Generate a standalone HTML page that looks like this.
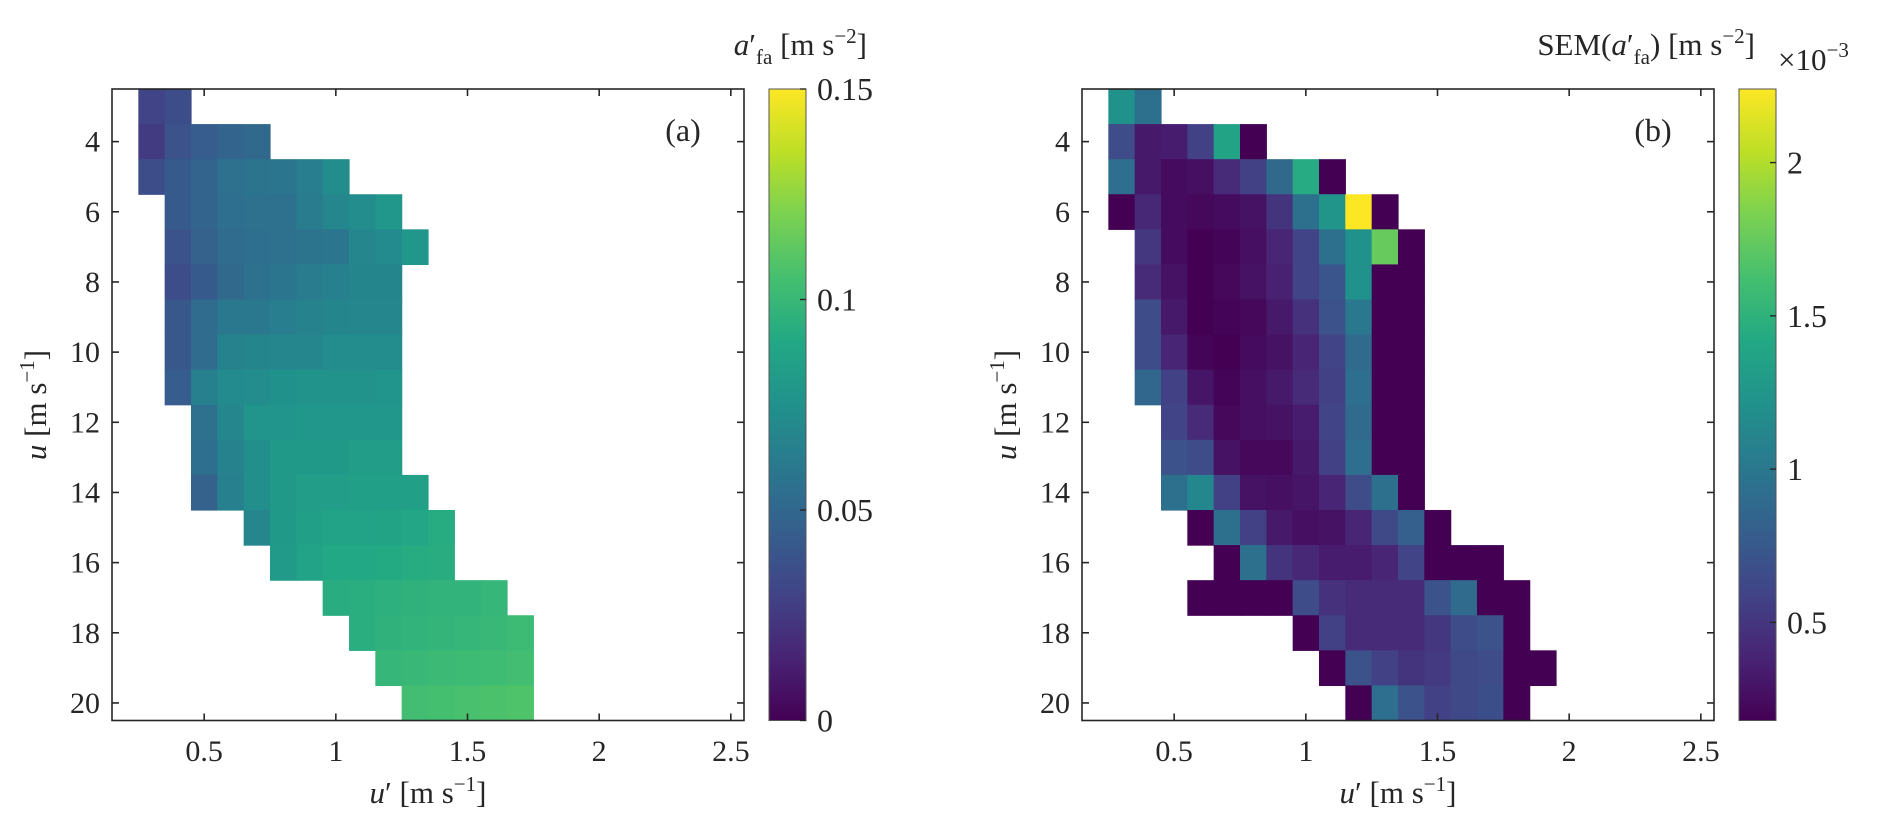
<!DOCTYPE html>
<html><head><meta charset="utf-8"><style>
html,body{margin:0;padding:0;background:#fff;}
svg{display:block;font-family:"Liberation Serif",serif;}
</style></head><body>
<svg id="fig" width="1892" height="832" viewBox="0 0 1892 832" xmlns="http://www.w3.org/2000/svg">
<g id="pa"></g>
<g id="pb"></g>
</svg>
<script>
// u rows (m/s) 3..20, u' columns centres 0.3..1.9
const uRows = [3,4,5,6,7,8,9,10,11,12,13,14,15,16,17,18,19,20];
const xTicks = [0.5,1,1.5,2,2.5];
const xTickLabels = ["0.5","1","1.5","2","2.5"];
const yTicks = [4,6,8,10,12,14,16,18,20];
const yTickLabels = ["4","6","8","10","12","14","16","18","20"];
// panel a: first column index per row, values [m s^-2]
const aStart = [0,0,0,1,1,1,1,1,1,2,2,2,4,5,7,8,9,10];
const aVals = [
 [.030,.035],
 [.026,.038,.044,.048,.051],
 [.035,.042,.048,.056,.057,.059,.063,.072],
 [.042,.048,.054,.056,.056,.062,.069,.072,.078],
 [.039,.047,.053,.054,.056,.057,.059,.069,.071,.078],
 [.035,.042,.051,.056,.059,.062,.065,.068,.068],
 [.041,.053,.060,.060,.063,.066,.068,.069,.069],
 [.041,.053,.066,.068,.069,.069,.072,.072,.072],
 [.044,.065,.071,.072,.075,.076,.076,.076,.077],
 [.056,.069,.077,.077,.078,.078,.078,.078],
 [.054,.066,.074,.080,.080,.080,.083,.083],
 [.047,.065,.074,.080,.083,.083,.084,.084,.084],
 [.069,.080,.084,.086,.086,.087,.089,.092],
 [.081,.086,.090,.090,.091,.092,.093],
 [.093,.094,.095,.096,.097,.097,.099],
 [.094,.096,.097,.098,.099,.100,.102],
 [.099,.100,.101,.102,.103,.104],
 [.104,.105,.106,.107,.108]
];
const aCbTicks = [0,0.05,0.1,0.15];
const aCbLabels = ["0","0.05","0.1","0.15"];
// panel b: SEM values x1e-3
const bStart = [0,0,0,0,1,1,1,1,1,2,2,2,3,4,3,7,8,9];
const bVals = [
 [1.21,0.94],
 [0.65,0.32,0.34,0.57,1.37,0.18],
 [0.92,0.32,0.24,0.26,0.43,0.57,0.88,1.44,0.18],
 [0.18,0.41,0.24,0.22,0.24,0.28,0.49,0.94,1.25,2.24,0.18],
 [0.51,0.24,0.18,0.20,0.26,0.39,0.59,0.94,1.21,1.75,0.18],
 [0.43,0.28,0.18,0.22,0.28,0.37,0.59,0.72,1.21,0.18,0.18],
 [0.65,0.32,0.18,0.20,0.22,0.32,0.47,0.70,1.0,0.18,0.18],
 [0.65,0.39,0.20,0.18,0.24,0.28,0.39,0.59,0.90,0.18,0.18],
 [0.86,0.57,0.30,0.20,0.26,0.32,0.43,0.57,0.92,0.18,0.18],
 [0.59,0.43,0.22,0.26,0.28,0.34,0.59,0.90,0.18,0.18],
 [0.70,0.65,0.28,0.22,0.22,0.32,0.57,0.92,0.18,0.18],
 [0.94,1.13,0.57,0.28,0.26,0.30,0.39,0.65,0.94,0.18],
 [0.18,0.94,0.57,0.32,0.26,0.28,0.39,0.63,0.80,0.18],
 [0.18,0.94,0.49,0.41,0.34,0.34,0.39,0.59,0.18,0.18,0.18],
 [0.18,0.18,0.18,0.18,0.65,0.47,0.43,0.43,0.43,0.70,0.90,0.18,0.18],
 [0.18,0.57,0.43,0.43,0.43,0.51,0.65,0.70,0.18],
 [0.18,0.70,0.57,0.49,0.53,0.63,0.65,0.18,0.18],
 [0.18,0.92,0.70,0.57,0.63,0.67,0.18]
];
const bCbTicks = [0.5,1,1.5,2];
const bCbLabels = ["0.5","1","1.5","2"];

const NS="http://www.w3.org/2000/svg";
const VIR=["#440154","#482475","#414487","#355f8d","#2a788e","#21918c","#22a884","#44bf70","#7ad151","#bddf26","#fde725"];
function hex(h){return [1,3,5].map(i=>parseInt(h.substr(i,2),16));}
function viridis(t){t=Math.max(0,Math.min(1,t));const s=t*10,i=Math.min(9,Math.floor(s)),f=s-i;const a=hex(VIR[i]),b=hex(VIR[i+1]);return "rgb("+a.map((v,k)=>Math.round(v+(b[k]-v)*f)).join(",")+")";}
function el(p,tag,at,txt){const e=document.createElementNS(NS,tag);for(const k in at)e.setAttribute(k,at[k]);if(txt!==undefined)e.textContent=txt;p.appendChild(e);return e;}

const FS=30;
function panel(g,L,R,vals,starts,vmin,vmax,cbx,cbTicks,cbLabels,letter){
  const T=89,B=720.5,x0=0.15,x1=2.55,y0=2.5,y1=20.5;
  const X=v=>L+(v-x0)/(x1-x0)*(R-L);
  const Y=v=>T+(v-y0)/(y1-y0)*(B-T);
  const cells=el(g,"g",{});
  
  
  vals.forEach((row,ri)=>{row.forEach((v,ci)=>{
    const c=0.3+(starts[ri]+ci)*0.1, u=uRows[ri];
    const r=el(cells,"rect",{x:X(c-0.05),y:Y(u-0.5),width:X(c+0.05)-X(c-0.05)+0.6,height:Y(u+0.5)-Y(u-0.5)+0.6,fill:viridis((v-vmin)/(vmax-vmin))});
    
    
  });});
  const ax=el(g,"g",{stroke:"#262626","stroke-width":1.6,fill:"none"});
  
  
  el(ax,"rect",{x:L,y:T,width:R-L,height:B-T});
  xTicks.forEach((t,i)=>{const x=X(t);el(ax,"line",{x1:x,y1:B,x2:x,y2:B-7});el(ax,"line",{x1:x,y1:T,x2:x,y2:T+7});
    const tl=el(g,"text",{x:x,y:761,"text-anchor":"middle","font-size":FS,fill:"#262626"},xTickLabels[i]);
    
    });
  yTicks.forEach((t,i)=>{const y=Y(t);el(ax,"line",{x1:L,y1:y,x2:L+7,y2:y});el(ax,"line",{x1:R,y1:y,x2:R-7,y2:y});
    const tl=el(g,"text",{x:L-12,y:y+10,"text-anchor":"end","font-size":FS,fill:"#262626"},yTickLabels[i]);
    
    });
  const xt=el(g,"text",{x:(L+R)/2,y:803,"text-anchor":"middle","font-size":FS+1,fill:"#262626"});
  xt.innerHTML='<tspan font-style="italic">u</tspan>′ [m s<tspan dy="-12" font-size="21">−1</tspan><tspan dy="12">]</tspan>';
  
  
  const yt=el(g,"text",{transform:"translate("+(L-66)+",405) rotate(-90)","text-anchor":"middle","font-size":FS+1,fill:"#262626"});
  yt.innerHTML='<tspan font-style="italic">u</tspan> [m s<tspan dy="-12" font-size="21">−1</tspan><tspan dy="12">]</tspan>';
  
  
  const lt=el(g,"text",{x:R-61,y:141,"text-anchor":"middle","font-size":32,fill:"#262626"},letter);
  
  
  // colorbar
  const cb=el(g,"g",{});
  
  
  const id="grad"+letter.replace(/\W/g,"");
  const defs=el(cb,"defs",{});const lg=el(defs,"linearGradient",{id:id,x1:0,y1:1,x2:0,y2:0});
  VIR.forEach((c,i)=>el(lg,"stop",{offset:(i*10)+"%","stop-color":c}));
  el(cb,"rect",{x:cbx,y:T,width:37,height:B-T,fill:"url(#"+id+")",stroke:"#555","stroke-width":1});
  const CY=v=>B-(v-vmin)/(vmax-vmin)*(B-T);
  cbTicks.forEach((t,i)=>{const y=CY(t);el(cb,"line",{x1:cbx+37,y1:y,x2:cbx+31,y2:y,stroke:"#262626","stroke-width":1.4});
    const tl=el(cb,"text",{x:cbx+48,y:y+11,"font-size":FS+2,fill:"#262626"},cbLabels[i]);
    
    });
}
const pa=document.getElementById("pa"), pb=document.getElementById("pb");
panel(pa,112,744,aVals,aStart,0,0.15,769,aCbTicks,aCbLabels,"(a)");
panel(pb,1082,1714,bVals,bStart,0.18,2.24,1739,bCbTicks,bCbLabels,"(b)");
const ta=el(pa,"text",{x:867,y:55,"text-anchor":"end","font-size":31,fill:"#262626"});
ta.innerHTML='<tspan font-style="italic">a</tspan>′<tspan dy="9" font-size="21">fa</tspan><tspan dy="-9"> [m s</tspan><tspan dy="-12" font-size="21">−2</tspan><tspan dy="12">]</tspan>';


const tb=el(pb,"text",{x:1755,y:55,"text-anchor":"end","font-size":31,fill:"#262626"});
tb.innerHTML='SEM(<tspan font-style="italic">a</tspan>′<tspan dy="9" font-size="21">fa</tspan><tspan dy="-9">) [m s</tspan><tspan dy="-12" font-size="21">−2</tspan><tspan dy="12">]</tspan>';


const ex=el(pb,"text",{x:1778,y:70,"font-size":31,fill:"#262626"});
ex.innerHTML='×10<tspan dy="-13" font-size="21">−3</tspan>';


</script>
</body></html>
